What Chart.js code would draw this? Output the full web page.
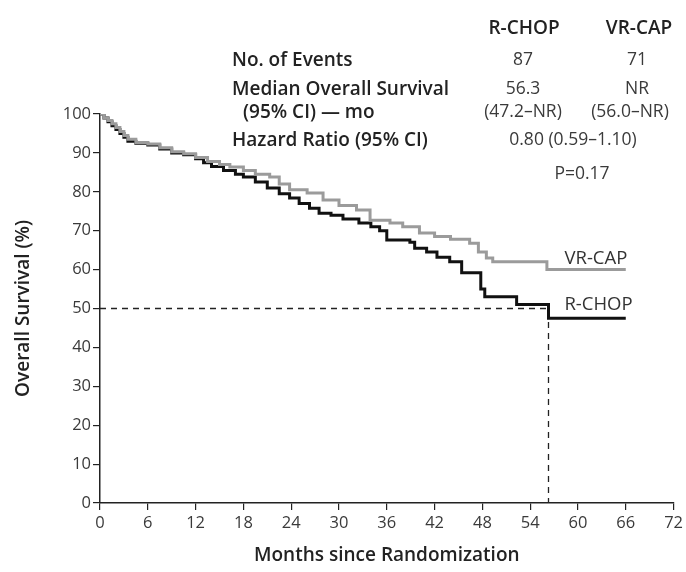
<!DOCTYPE html>
<html>
<head>
<meta charset="utf-8">
<script src="https://cdn.jsdelivr.net/npm/chart.js@4/dist/chart.umd.min.js"></script>
<style>
	html, body { margin: 0; padding: 0; background: #fff; }
	#wrap { position: relative; width: 686px; height: 572px; font-family: "Open Sans", sans-serif; color: #2a2a2a; }
	#chart { position: absolute; left: 0; top: 0; }
	.t { position: absolute; white-space: nowrap; line-height: 1; transform: translateY(-50%); }
	.c { transform: translate(-50%, -50%); }
	.b { font-weight: 600; font-size: 19px; color: #222; }
	.v { font-size: 17.5px; color: #3a3a3a; }
</style>
</head>
<body>
<div id="wrap">
	<canvas id="chart" width="686" height="572"></canvas>
	<div class="t c b" style="left:524px; top:27px;">R-CHOP</div>
	<div class="t c b" style="left:639px; top:27px;">VR-CAP</div>
	<div class="t b" style="left:232px; top:59px;">No. of Events</div>
	<div class="t c v" style="left:523px; top:59px;">87</div>
	<div class="t c v" style="left:637px; top:59px;">71</div>
	<div class="t b" style="left:232px; top:88px;">Median Overall Survival</div>
	<div class="t c v" style="left:523px; top:88px;">56.3</div>
	<div class="t c v" style="left:637px; top:88px;">NR</div>
	<div class="t b" style="left:243px; top:111px;">(95% CI) — mo</div>
	<div class="t c v" style="left:523px; top:111px;">(47.2–NR)</div>
	<div class="t c v" style="left:630px; top:111px;">(56.0–NR)</div>
	<div class="t b" style="left:232px; top:139px;">Hazard Ratio (95% CI)</div>
	<div class="t c v" style="left:573px; top:139px;">0.80 (0.59–1.10)</div>
	<div class="t c v" style="left:582px; top:173px;">P=0.17</div>
</div>
<script>

// Kaplan-Meier steps (months, % surviving)
var rchopMonths   = [0, 0.5, 1, 1.5, 2, 2.5, 3, 3.5, 4.5, 6, 7.5, 9, 10.5, 12, 13, 14, 15.5, 17, 18, 19.5, 21, 22.5, 23.8, 25, 26.3, 27.5, 29, 30.5, 32.5, 34, 35.1, 36, 38.9, 39.5, 41, 42.3, 43.9, 45.4, 47.8, 48.3, 52.3, 56.3, 66];
var rchopSurvival = [100, 99, 98, 97, 96, 95, 94, 93, 92.5, 92, 91, 90, 89.5, 88.5, 87.5, 86.5, 85.5, 84.5, 83.8, 82.5, 81, 79.5, 78.4, 77, 75.8, 74.5, 74, 73, 72, 71, 70, 67.6, 67, 65.5, 64.5, 63.2, 62, 59.2, 55, 53, 51, 47.5, 47.5];

var vrcapMonths   = [0, 0.5, 1, 1.5, 2, 2.5, 3, 3.5, 4.5, 6, 7.5, 9, 10.5, 12, 13.5, 15, 16.3, 18, 19.5, 21.3, 22.5, 23.8, 26, 28, 30, 32.2, 33.9, 36.4, 38, 40.1, 42, 44, 46.4, 47.5, 48.5, 49.3, 56.1, 66];
var vrcapSurvival = [100, 99, 98.3, 97.5, 96.5, 95.5, 94.5, 93.5, 92.7, 92.3, 91.3, 90.3, 89.8, 88.8, 87.8, 87, 86.4, 85.5, 84.5, 83.8, 82, 80.5, 79.7, 77.9, 76.5, 75.3, 72.7, 72, 71, 69.4, 68.5, 67.8, 66.8, 64.5, 63, 62, 60, 60];

var monthTicks    = [0, 6, 12, 18, 24, 30, 36, 42, 48, 54, 60, 66, 72];
var survivalTicks = [0, 10, 20, 30, 40, 50, 60, 70, 80, 90, 100];

var rchopMedian = 56.3;
var medianLevel = 50;

function toPoints(xs, ys) {
	var pts = [];
	for (var i = 0; i < xs.length; i++) {
		pts.push({x: xs[i], y: ys[i]});
	}
	return pts;
}

// dashed median guide + curve labels
var annotations = {
	id: 'annotations',
	beforeDatasetsDraw: function(chart) {
		var ctx = chart.ctx;
		var xs = chart.scales.x, ys = chart.scales.y;
		var mx = xs.getPixelForValue(rchopMedian);
		var my = ys.getPixelForValue(medianLevel);
		ctx.save();
		ctx.strokeStyle = '#222';
		ctx.lineWidth = 1.3;
		ctx.setLineDash([6, 5]);
		ctx.beginPath();
		ctx.moveTo(xs.left, my);
		ctx.lineTo(mx, my);
		ctx.lineTo(mx, ys.bottom);
		ctx.stroke();
		ctx.restore();
	},
	afterDatasetsDraw: function(chart) {
		var ctx = chart.ctx;
		var xs = chart.scales.x, ys = chart.scales.y;
		ctx.save();
		ctx.font = '18.5px "Open Sans"';
		ctx.fillStyle = '#333';
		ctx.textBaseline = 'middle';
		ctx.fillText('VR-CAP', xs.getPixelForValue(58.3), ys.getPixelForValue(62.7));
		ctx.fillText('R-CHOP', xs.getPixelForValue(58.3), ys.getPixelForValue(51));
		ctx.restore();
	}
};

var ctx = document.getElementById('chart').getContext('2d');

new Chart(ctx, {
	type: 'line',
	data: {
		datasets: [{
			label: 'VR-CAP',
			data: toPoints(vrcapMonths, vrcapSurvival),
			borderColor: '#9b9b9b',
			borderWidth: 3,
			stepped: true,
			pointRadius: 0,
			fill: false
		}, {
			label: 'R-CHOP',
			data: toPoints(rchopMonths, rchopSurvival),
			borderColor: '#111',
			borderWidth: 3,
			stepped: true,
			pointRadius: 0,
			fill: false
		}]
	},
	options: {
		responsive: false,
		animation: false,
		layout: { padding: { top: 114, right: 9, left: 0, bottom: 0 } },
		plugins: {
			legend: { display: false },
			tooltip: { enabled: false }
		},
		scales: {
			x: {
				type: 'linear',
				min: 0,
				max: 72,
				afterBuildTicks: function(scale) {
					scale.ticks = monthTicks.map(function(v){ return {value: v}; });
				},
				afterFit: function(scale) { scale.height = 69; },
				ticks: { font: { family: 'Open Sans', size: 16.5 }, color: '#3a3a3a', padding: 3, maxRotation: 0 },
				grid: { drawOnChartArea: false, tickLength: 7, color: '#222', lineWidth: 1.2 },
				border: { color: '#222', width: 1.5 },
				title: {
					display: true,
					text: 'Months since Randomization',
					font: { family: 'Open Sans', size: 19, weight: '600' },
					color: '#222',
					padding: { top: 4, bottom: 5 }
				}
			},
			y: {
				min: 0,
				max: 100,
				afterBuildTicks: function(scale) {
					scale.ticks = survivalTicks.map(function(v){ return {value: v}; });
				},
				afterFit: function(scale) { scale.width = 100; },
				ticks: { font: { family: 'Open Sans', size: 16.5 }, color: '#3a3a3a', padding: 2 },
				grid: { drawOnChartArea: false, tickLength: 7, color: '#222', lineWidth: 1.2 },
				border: { color: '#222', width: 1.5 },
				title: {
					display: true,
					text: 'Overall Survival (%)',
					font: { family: 'Open Sans', size: 19, weight: '600' },
					color: '#222',
					padding: { top: 12, bottom: 0 }
				}
			}
		}
	},
	plugins: [annotations]
});

</script>
</body>
</html>
